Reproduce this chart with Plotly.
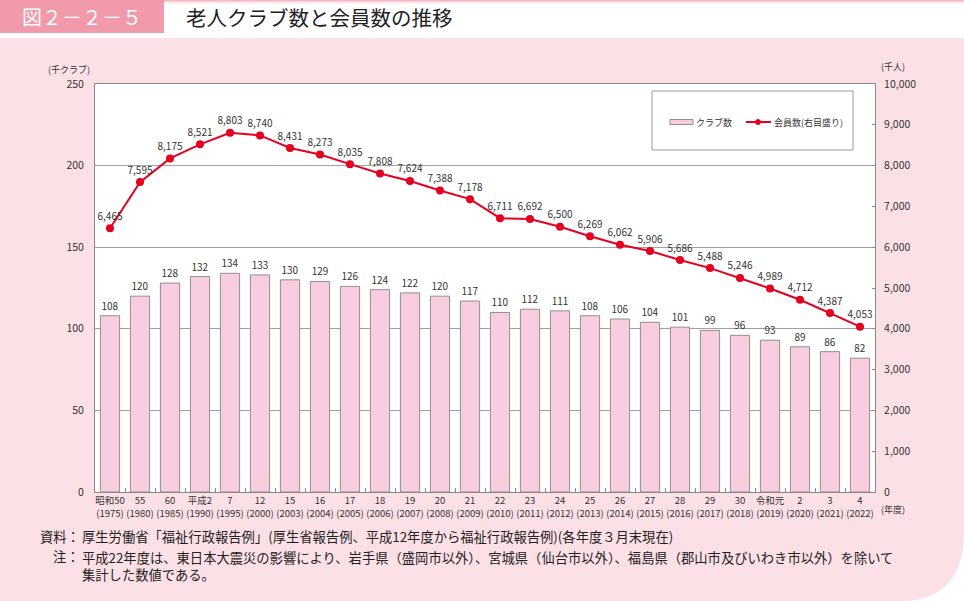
import plotly.graph_objects as go

era_labels = ["昭和50", "55", "60", "平成2", "7", "12", "15", "16", "17", "18", "19", "20", "21",
              "22", "23", "24", "25", "26", "27", "28", "29", "30", "令和元", "2", "3", "4"]
years = ["1975", "1980", "1985", "1990", "1995", "2000", "2003", "2004", "2005", "2006", "2007",
         "2008", "2009", "2010", "2011", "2012", "2013", "2014", "2015", "2016", "2017", "2018",
         "2019", "2020", "2021", "2022"]
clubs = [108, 120, 128, 132, 134, 133, 130, 129, 126, 124, 122, 120, 117, 110, 112, 111, 108,
         106, 104, 101, 99, 96, 93, 89, 86, 82]
members = [6465, 7595, 8175, 8521, 8803, 8740, 8431, 8273, 8035, 7808, 7624, 7388, 7178, 6711,
           6692, 6500, 6269, 6062, 5906, 5686, 5488, 5246, 4989, 4712, 4387, 4053]

categories = [f"{e}<br>({y})" for e, y in zip(era_labels, years)]

W, H = 964, 601
L, R, T, B = 95, 875, 84, 492


def px(x):
    return (x - L) / (R - L)


def py(y):
    return (B - y) / (B - T)


FONT = "Noto Sans CJK JP"
PINK_BG = "#fbe1e6"
TXT = "#333333"
RED = "#e60020"
NOTE = 13.3

fig = go.Figure()
fig.add_trace(go.Bar(
    x=categories, y=clubs, name="クラブ数",
    marker=dict(color="#f8cde0", line=dict(color="#8f8f8f", width=1)),
    text=[str(v) for v in clubs], textposition="outside",
    textfont=dict(size=10, color=TXT), cliponaxis=False,
))
fig.add_trace(go.Scatter(
    x=categories, y=members, name="会員数(右目盛り)", yaxis="y2",
    mode="lines+markers+text",
    line=dict(color=RED, width=2),
    marker=dict(color=RED, size=8),
    text=[f"{v:,}" for v in members], textposition="top center",
    textfont=dict(size=10, color=TXT), cliponaxis=False,
))

shapes = []
# header white band
shapes.append(dict(type="rect", xref="paper", yref="paper", x0=px(0), x1=px(W), y0=py(38), y1=py(0),
                   fillcolor="white", line=dict(width=0), layer="below"))
# top gradient line
for i, op in enumerate([0.7, 0.45, 0.25, 0.1]):
    shapes.append(dict(type="rect", xref="paper", yref="paper", x0=px(163), x1=px(W),
                       y0=py(i + 1), y1=py(i), fillcolor="#ef9aab", opacity=op,
                       line=dict(width=0), layer="below"))
# title box
shapes.append(dict(type="rect", xref="paper", yref="paper", x0=px(0), x1=px(164), y0=py(33), y1=py(0),
                   fillcolor="#f09aab", line=dict(width=0), layer="below"))
# rounded bottom-right corner
shapes.append(dict(type="path", xref="paper", yref="paper",
                   path=f"M {px(964)},{py(535)} Q {px(962)},{py(598)} {px(905)},{py(601)} L {px(964)},{py(601)} Z",
                   fillcolor="white", line=dict(width=0), layer="below"))
# legend box
shapes.append(dict(type="rect", xref="paper", yref="paper", x0=px(652), x1=px(853), y0=py(150), y1=py(91),
                   fillcolor="white", line=dict(color="#9a9a9a", width=1), layer="above"))
# legend icons
shapes.append(dict(type="rect", xref="paper", yref="paper", x0=px(670), x1=px(693), y0=py(124.5), y1=py(119.5),
                   fillcolor="#f8cde0", line=dict(color="#8f8f8f", width=1), layer="above"))
shapes.append(dict(type="line", xref="paper", yref="paper", x0=px(746), x1=px(771), y0=py(122), y1=py(122),
                   line=dict(color=RED, width=2), layer="above"))
shapes.append(dict(type="circle", xref="paper", yref="paper", x0=px(755.5), x1=px(760.5), y0=py(124.5), y1=py(119.5),
                   fillcolor=RED, line=dict(color=RED, width=1), layer="above"))

annotations = [
    dict(text="図２－２－５", x=px(82), y=py(17), xref="paper", yref="paper", showarrow=False,
         xanchor="center", yanchor="middle", font=dict(family=FONT, size=20, color="white")),
    dict(text="老人クラブ数と会員数の推移", x=px(184), y=py(17), xref="paper", yref="paper", showarrow=False,
         xanchor="left", yanchor="middle", font=dict(family=FONT, size=20.5, color="#222222")),
    dict(text="(千クラブ)", x=px(69), y=py(70), xref="paper", yref="paper", showarrow=False,
         xanchor="center", yanchor="middle", font=dict(family=FONT, size=9, color=TXT)),
    dict(text="(千人)", x=px(893), y=py(67), xref="paper", yref="paper", showarrow=False,
         xanchor="center", yanchor="middle", font=dict(family=FONT, size=9, color=TXT)),
    dict(text="(年度)", x=px(893), y=py(509), xref="paper", yref="paper", showarrow=False,
         xanchor="center", yanchor="middle", font=dict(family=FONT, size=9, color=TXT)),
    dict(text="クラブ数", x=px(694), y=py(122), xref="paper", yref="paper", showarrow=False,
         xanchor="left", yanchor="middle", font=dict(family=FONT, size=9, color=TXT)),
    dict(text="会員数(右目盛り)", x=px(772), y=py(122), xref="paper", yref="paper", showarrow=False,
         xanchor="left", yanchor="middle", font=dict(family=FONT, size=9, color=TXT)),
    dict(text="資料：", x=px(82), y=py(536), xref="paper", yref="paper", showarrow=False,
         xanchor="right", yanchor="middle", font=dict(family=FONT, size=NOTE, color="#222222")),
    dict(text="厚生労働省「福祉行政報告例」(厚生省報告例、平成12年度から福祉行政報告例)(各年度３月末現在)",
         x=px(80), y=py(536), xref="paper", yref="paper", showarrow=False,
         xanchor="left", yanchor="middle", font=dict(family=FONT, size=NOTE, color="#222222")),
    dict(text="注：", x=px(82), y=py(556), xref="paper", yref="paper", showarrow=False,
         xanchor="right", yanchor="middle", font=dict(family=FONT, size=NOTE, color="#222222")),
    dict(text="平成22年度は、東日本大震災の影響により、岩手県（盛岡市以外）、宮城県（仙台市以外）、福島県（郡山市及びいわき市以外）を除いて<br>集計した数値である。",
         x=px(80), y=py(565.5), xref="paper", yref="paper", showarrow=False, align="left",
         xanchor="left", yanchor="middle", font=dict(family=FONT, size=NOTE, color="#222222")),
]

fig.update_layout(
    width=W, height=H,
    margin=dict(l=L, r=W - R, t=T, b=H - B, pad=0, autoexpand=False),
    paper_bgcolor=PINK_BG, plot_bgcolor="white",
    font=dict(family=FONT, size=10, color=TXT),
    bargap=0.36,
    showlegend=False,
    xaxis=dict(type="category", range=[-0.5, len(categories) - 0.5], autorange=False,
               showline=True, linecolor="#888888", mirror=True,
               ticks="inside", ticklen=4, tickcolor="#888888", tickson="boundaries",
               tickfont=dict(size=9.5, color=TXT), tickangle=0, showgrid=False),
    yaxis=dict(range=[0, 250], dtick=50, showline=True, linecolor="#888888",
               showgrid=True, gridcolor="#a0a0a0", gridwidth=1, zeroline=False,
               ticks="", tickfont=dict(size=10.5, color=TXT), ticklabelstandoff=8),
    yaxis2=dict(range=[0, 10000], dtick=1000, overlaying="y", side="right", showline=True,
                linecolor="#888888", showgrid=False, zeroline=False, ticks="inside", ticklen=3,
                tickcolor="#888888", tickformat=",", tickfont=dict(size=10.5, color=TXT),
                ticklabelstandoff=6),
    shapes=shapes,
    annotations=annotations,
)

fig.write_html("out.html", config={"displayModeBar": False},
               post_script="document.body.style.margin='0';document.body.style.overflow='hidden';")
